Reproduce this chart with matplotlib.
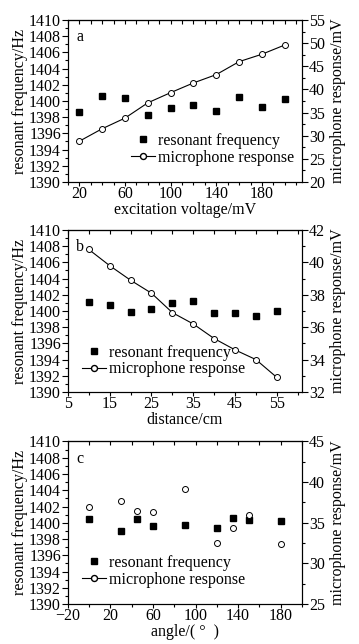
import matplotlib
matplotlib.use("Agg")
import numpy as np
import matplotlib.pyplot as plt
from matplotlib.lines import Line2D
from matplotlib.ticker import MultipleLocator, FixedLocator

plt.rcParams['font.family'] = ['Liberation Serif', 'DejaVu Serif']
plt.rcParams['font.size'] = 11.5

# panel a: excitation voltage
volt = [20, 40, 60, 80, 100, 120, 140, 160, 180, 200]
freq_a = [1398.6, 1400.6, 1400.4, 1398.3, 1399.1, 1399.5, 1398.8, 1400.5, 1399.3, 1400.2]
mic_a = [28.8, 31.5, 33.8, 37.1, 39.3, 41.4, 43.2, 46.0, 47.6, 49.6]

# panel b: distance
dist = [10, 15, 20, 25, 30, 35, 40, 45, 50, 55]
freq_b = [1401.1, 1400.8, 1399.9, 1400.2, 1401.0, 1401.2, 1399.8, 1399.8, 1399.4, 1400.0]
mic_b = [40.8, 39.8, 38.9, 38.1, 36.9, 36.2, 35.3, 34.6, 34.0, 32.9]

# panel c: angle
angle = [0, 30, 45, 60, 90, 120, 135, 150, 180]
freq_c = [1400.5, 1399.0, 1400.5, 1399.6, 1399.7, 1399.3, 1400.6, 1400.3, 1400.2]
mic_c = [37.0, 37.7, 36.5, 36.3, 39.1, 32.5, 34.4, 35.9, 32.4]

fig = plt.figure(figsize=(3.59, 6.44), dpi=100)

def panel(rect, x, f, m, letter, xlabel, xlim, xticks, xminor, rlim, rmajor, line, leg_xy):
    ax = fig.add_axes(rect)
    ax.plot(x, f, 's', color='black', ms=4)
    ax.set_ylim(1390, 1410)
    ax.yaxis.set_major_locator(MultipleLocator(2))
    ax.yaxis.set_minor_locator(MultipleLocator(1))
    ax.set_xlim(*xlim)
    ax.xaxis.set_major_locator(FixedLocator(xticks))
    ax.xaxis.set_minor_locator(MultipleLocator(xminor))
    ax.tick_params(which='both', direction='out', top=False, pad=1)
    ax.tick_params(which='major', length=4, width=0.8)
    ax.tick_params(which='minor', length=2, width=0.8)
    ax.tick_params(axis='x', which='major', length=3, pad=0)
    ax.set_ylabel('resonant frequency/Hz', labelpad=1)
    ax.set_xlabel(xlabel, labelpad=0)
    ax.text(0.035, 0.87, letter, transform=ax.transAxes)

    ax2 = ax.twinx()
    if line:
        ax2.plot(x, m, '-o', color='black', mfc='white', ms=4.3, lw=0.8, mew=0.7)
    else:
        ax2.plot(x, m, 'o', color='black', mfc='white', ms=4.3, mew=0.7)
    ax2.set_ylim(*rlim)
    ax2.yaxis.set_major_locator(MultipleLocator(rmajor))
    ax2.yaxis.set_minor_locator(MultipleLocator(rmajor / 2))
    ax2.tick_params(which='both', direction='out', pad=1)
    ax2.tick_params(which='major', length=4, width=0.8)
    ax2.tick_params(which='minor', length=2, width=0.8)
    ax2.set_ylabel('microphone response/mV', labelpad=4)

    # short inward ticks along the top edge
    sec = ax.secondary_xaxis('top')
    sec.xaxis.set_major_locator(FixedLocator(xticks))
    sec.xaxis.set_minor_locator(MultipleLocator(xminor))
    sec.tick_params(which='both', direction='in', labeltop=False, length=3, width=0.8)

    handles = [Line2D([], [], ls='none', marker='s', color='black', ms=4),
               Line2D([], [], ls='-', marker='o', color='black', mfc='white', ms=4.3, lw=0.8)]
    ax2.legend(handles, ['resonant frequency', 'microphone response'],
               loc='lower left', bbox_to_anchor=leg_xy, frameon=False,
               handlelength=1.5, handletextpad=0.2, borderpad=0, borderaxespad=0,
               labelspacing=0.05)
    return ax

panel([0.189, 0.7174, 0.652, 0.2516], volt, freq_a, mic_a, 'a', 'excitation voltage/mV',
      (10, 215), np.arange(20, 181, 40), 10, (20, 55), 5, True, (0.27, 0.10))
panel([0.189, 0.3913, 0.652, 0.2516], dist, freq_b, mic_b, 'b', 'distance/cm',
      (5, 61), np.arange(5, 56, 10), 5, (32, 42), 2, True, (0.06, 0.09))
panel([0.189, 0.062, 0.652, 0.2525], angle, freq_c, mic_c, 'c', 'angle/( °  )',
      (-20, 200), np.arange(-20, 181, 40), 20, (25, 45), 5, False, (0.06, 0.10))

fig.savefig('out.png', dpi=100)
